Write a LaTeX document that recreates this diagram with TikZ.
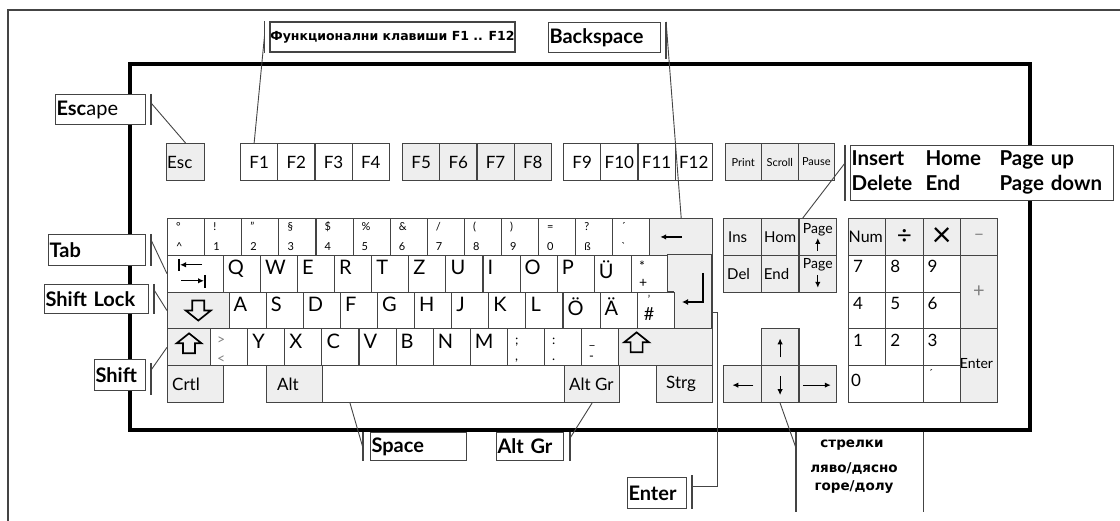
\documentclass[tikz,border=0pt]{standalone}
\usepackage{fontspec}
\setmainfont{Lato}
\newfontfamily\cyrfont{DejaVu Sans}
\usetikzlibrary{arrows.meta}
\definecolor{keygrey}{HTML}{EEEEEE}
\definecolor{rim}{HTML}{444444}
\newcommand{\fs}[1]{\fontsize{#1}{#1}\selectfont}

\tikzset{
  key/.style={draw=rim, line width=1.1pt, fill=white, anchor=north west,
    inner sep=0pt, minimum width=37.1pt, minimum height=36.8pt},
  gkey/.style={key, fill=keygrey},
  let/.style={anchor=north west, inner sep=0pt, font=\fs{20}},
  fkey/.style={inner sep=0pt, font=\fs{17}},
  sml/.style={anchor=base west, inner sep=0pt, font=\fs{11}},
  karrow/.style={-{Latex[length=6pt,width=5.5pt]}, line width=1.2pt},
  callout/.style={draw=rim, line width=1.1pt, fill=white, anchor=north west,
    inner xsep=1pt, inner ysep=0pt, align=left, font=\fs{20}},
  tick/.style={draw=rim, line width=1.4pt},
  link/.style={draw=rim, line width=0.9pt},
  shiftup/.pic={\draw[line width=1.7pt, line join=miter]
    (0,-10) -- (12.5,0) -- (6,0) -- (6,10) -- (-6,10) -- (-6,0) -- (-12.5,0) -- cycle;}
}

\begin{document}
\begin{tikzpicture}[x=1pt, y=-1pt]
\useasboundingbox (0,0) rectangle (1120,521);
\clip (0,0) rectangle (1120,521);
\draw[rim, line width=2pt] (8,10) rectangle (1140,540);
\draw[line width=3.6pt] (130,64) rectangle (1030,430);

% function row
\node[gkey, minimum width=38pt, minimum height=37pt] (esc) at (166,143) {};
\node[fkey, anchor=west] at ([shift={(1,0)}]esc.west) {Esc};
\foreach \n [count=\i from 0] in {1,2,3,4}{
  \node[key, minimum width=37.2pt, minimum height=37pt] (f\n) at (240+37.2*\i,143) {};
  \node[fkey] at (f\n) {F\n};}
\foreach \n [count=\i from 0] in {5,6,7,8}{
  \node[gkey, minimum width=37.2pt, minimum height=37pt] (f\n) at (402+37.2*\i,143) {};
  \node[fkey] at (f\n) {F\n};}
\foreach \n [count=\i from 0] in {9,10,11,12}{
  \node[key, minimum width=37.2pt, minimum height=37pt] (f\n) at (563+37.2*\i,143) {};
  \node[fkey] at (f\n) {F\n};}
\foreach \t [count=\i from 0] in {Print,Scroll,Pause}{
  \node[gkey, minimum width=36.5pt, minimum height=37pt] (sys\i) at (724.5+36.5*\i,143) {};
  \node[inner sep=0pt, font=\fs{11}] at (sys\i) {\t};}

% digits
\foreach \a/\b [count=\i from 0] in {°/\textasciicircum, !/1, "/2, §/3, \$/4, \%/5, \&/6, \slash/7, {(}/8, {)}/9, =/0, ?/ß, ´/\textasciigrave}{
  \node[key] (n\i) at (167+37.1*\i,218) {};
  \node[sml] at ([shift={(9,13)}]n\i.north west) {\a};
  \node[sml] at ([shift={(9,-5)}]n\i.south west) {\b};}
\node[gkey, minimum width=62.7pt] (bs) at (649.3,218) {};
\draw[karrow] ([shift={(1,0)}]bs.center) -- ([shift={(-21,0)}]bs.center);

% QWERTZ
\node[key, minimum width=55.7pt] (tab) at (167,254.8) {};
\draw[line width=1.5pt] ([shift={(12,4)}]tab.north west) -- ([shift={(12,16)}]tab.north west);
\draw[karrow] ([shift={(35,10)}]tab.north west) -- ([shift={(13,10)}]tab.north west);
\draw[karrow] ([shift={(14,26)}]tab.north west) -- ([shift={(37,26)}]tab.north west);
\draw[line width=1.5pt] ([shift={(38,20)}]tab.north west) -- ([shift={(38,33)}]tab.north west);
\foreach \t [count=\i from 0] in {Q,W,E,R,T,Z,U,I,O,P,Ü}{
  \node[key] (q\i) at (222.7+37.1*\i,254.8) {};
  \node[let] at ([shift={(5,5.5)}]q\i.north west) {\t};}
\node[key] (star) at (630.8,254.8) {};
\node[sml, font=\fs{14}] at ([shift={(8,17)}]star.north west) {*};
\node[sml, font=\fs{14}] at ([shift={(8,-5)}]star.south west) {+};
\draw[draw=rim, line width=1.1pt, fill=keygrey] (667.9,254.8) -- (712,254.8) -- (712,328.4)
  -- (673.7,328.4) -- (673.7,291.6) -- (667.9,291.6) -- cycle;
\coordinate (enterR) at (712,312);
\draw[line width=1.5pt, -{Latex[length=6pt,width=6pt]}] (703,273) -- (703,302) -- (682,302);

% ASDF
\node[gkey, minimum width=61.5pt] (caps) at (167,291.6) {};
\pic[rotate=180] at (caps.center) {shiftup};
\foreach \t [count=\i from 0] in {A,S,D,F,G,H,J,K,L,Ö,Ä}{
  \node[key] (a\i) at (228.5+37.1*\i,291.6) {};
  \node[let] at ([shift={(5,5.5)}]a\i.north west) {\t};}
\node[key] (hash) at (636.6,291.6) {};
\node[sml] at ([shift={(11,12)}]hash.north west) {'};
\node[sml, font=\fs{18}] at ([shift={(7,-9)}]hash.south west) {\#};

% YXCV
\node[gkey, minimum width=43pt] (lsh) at (167,328.4) {};
\pic at ([shift={(0,-4)}]lsh.center) {shiftup};
\node[key] (ltgt) at (210,328.4) {};
\node[sml, font=\fs{14}, gray] at ([shift={(7,16)}]ltgt.north west) {>};
\node[sml, font=\fs{14}, gray] at ([shift={(7,-3)}]ltgt.south west) {<};
\foreach \t [count=\i from 0] in {Y,X,C,V,B,N,M}{
  \node[key] (y\i) at (247.1+37.1*\i,328.4) {};
  \node[let] at ([shift={(5,5.5)}]y\i.north west) {\t};}
\foreach \a/\b [count=\i from 0] in {;/{,}, :/., \_/-}{
  \node[key] (p\i) at (506.8+37.1*\i,328.4) {};
  \node[sml, font=\fs{13}] at ([shift={(8,16)}]p\i.north west) {\a};
  \node[sml, font=\fs{13}] at ([shift={(8,-6)}]p\i.south west) {\b};}
\node[gkey, minimum width=93.9pt] (rsh) at (618.1,328.4) {};
\pic at ([shift={(18.5,-5)}]rsh.west) {shiftup};

% bottom row
\node[gkey, minimum width=55.7pt] (ctrl) at (167,365.2) {};
\node[fkey, anchor=west] at ([shift={(5,0)}]ctrl.west) {Crtl};
\node[gkey, minimum width=56pt] (alt) at (266,365.2) {};
\node[fkey, anchor=west] at ([shift={(11,0)}]alt.west) {Alt};
\node[key, minimum width=242pt] (space) at (322,365.2) {};
\node[gkey, minimum width=55pt] (altgr) at (564,365.2) {};
\node[fkey, anchor=west] at ([shift={(5,0)}]altgr.west) {Alt Gr};
\node[gkey, minimum width=56pt] (strg) at (656,365.2) {};
\node[fkey, anchor=west] at ([shift={(10,0)}]strg.west) {Strg};

% navigation block
\node[gkey, minimum width=37.7pt] (ins) at (723,218) {};
\node[gkey, minimum width=37.7pt] (hom) at (760.7,218) {};
\node[gkey, minimum width=37.7pt] (pgup) at (798.4,218) {};
\node[gkey, minimum width=37.7pt] (del) at (723,254.8) {};
\node[gkey, minimum width=37.7pt] (end) at (760.7,254.8) {};
\node[gkey, minimum width=37.7pt] (pgdn) at (798.4,254.8) {};
\node[fkey, font=\fs{15}, anchor=west] at ([shift={(5,0)}]ins.west) {Ins};
\node[fkey, font=\fs{15}] at (hom) {Hom};
\node[fkey, font=\fs{15}, anchor=west] at ([shift={(4,0)}]del.west) {Del};
\node[fkey, font=\fs{15}, anchor=west] at ([shift={(3,0)}]end.west) {End};
\node[fkey, font=\fs{14}, anchor=north] at ([shift={(0,5)}]pgup.north) {Page};
\draw[karrow] ([shift={(0,33)}]pgup.north) -- ([shift={(0,20)}]pgup.north);
\node[fkey, font=\fs{14}, anchor=north] at ([shift={(0,3.5)}]pgdn.north) {Page};
\draw[karrow] ([shift={(0,20)}]pgdn.north) -- ([shift={(0,33)}]pgdn.north);

% cursor keys
\node[gkey, minimum width=37.7pt] (kup) at (760.7,328.4) {};
\node[gkey, minimum width=37.7pt] (kleft) at (723,365.2) {};
\node[gkey, minimum width=37.7pt] (kdown) at (760.7,365.2) {};
\node[gkey, minimum width=37.7pt] (kright) at (798.4,365.2) {};
\draw[karrow] ([shift={(0,10)}]kup.center) -- ([shift={(0,-9)}]kup.center);
\draw[karrow] ([shift={(11,1)}]kleft.center) -- ([shift={(-10,1)}]kleft.center);
\draw[karrow] ([shift={(0,-8)}]kdown.center) -- ([shift={(0,11)}]kdown.center);
\draw[karrow] ([shift={(-15,1)}]kright.center) -- ([shift={(13,1)}]kright.center);

% numeric pad
\node[gkey, minimum width=37.25pt] (num) at (848,218) {};
\node[gkey, minimum width=37.25pt] (ndiv) at (885.25,218) {};
\node[gkey, minimum width=37.25pt] (nmul) at (922.5,218) {};
\node[gkey, minimum width=37.25pt] (nsub) at (959.75,218) {};
\node[fkey, font=\fs{16}, anchor=west] at ([shift={(0.5,0)}]num.west) {Num};
\node[fkey, font=\fs{26}] at (ndiv) {÷};
\node[fkey, font=\fs{34}] at (nmul) {×};
\node[fkey, gray] at (nsub) {−};
\foreach \t [count=\i from 0] in {7,8,9}{
  \node[key, minimum width=37.25pt] (k\t) at (848+37.25*\i,254.8) {};
  \node[let, font=\fs{17}] at ([shift={(5,5.5)}]k\t.north west) {\t};}
\foreach \t [count=\i from 0] in {4,5,6}{
  \node[key, minimum width=37.25pt] (k\t) at (848+37.25*\i,291.6) {};
  \node[let, font=\fs{17}] at ([shift={(5,5.5)}]k\t.north west) {\t};}
\foreach \t [count=\i from 0] in {1,2,3}{
  \node[key, minimum width=37.25pt] (k\t) at (848+37.25*\i,328.4) {};
  \node[let, font=\fs{17}] at ([shift={(5,5.5)}]k\t.north west) {\t};}
\node[gkey, minimum width=37.25pt, minimum height=73.6pt] (nadd) at (959.75,254.8) {};
\node[fkey, font=\fs{20}, gray] at (nadd) {+};
\node[gkey, minimum width=37.25pt, minimum height=73.6pt] (nent) at (959.75,328.4) {};
\node[fkey, font=\fs{14}, anchor=west] at ([shift={(0,-2)}]nent.west) {Enter};
\node[key, minimum width=74.5pt] (k0) at (848,365.2) {};
\node[let, font=\fs{17}] at ([shift={(3,9)}]k0.north west) {0};
\node[key, minimum width=37.25pt] (kdec) at (922.5,365.2) {};
\node[sml] at ([shift={(6,12)}]kdec.north west) {´};

% callouts
\node[callout, text width=88pt, minimum height=30pt] (lEsc) at (55,94) {\textbf{Esc}ape};
\draw[tick] ([shift={(5,0)}]lEsc.north east) -- ([shift={(5,0)}]lEsc.south east);
\draw[link] ([shift={(5,9)}]lEsc.north east) -- (esc.north);

\node[draw=rim, line width=1.1pt, fill=white, inner sep=0pt, minimum width=245pt, minimum height=30pt,
  font=\cyrfont\bfseries\fs{12.5}] (lFn) at (392.5,37) {Функционални клавиши F1 .. F12};
\draw[tick] ([shift={(-5,0)}]lFn.north west) -- ([shift={(-5,0)}]lFn.south west);
\draw[link] ([shift={(-5,15)}]lFn.north west) -- ([shift={(-5,0)}]f1.north);

\node[callout, text width=110pt, minimum height=30pt] (lBs) at (548,22) {\textbf{Backspace}};
\draw[tick] ([shift={(5,0)}]lBs.north east) -- ([shift={(5,6)}]lBs.south east);
\draw[link] ([shift={(5,0)}]lBs.north east) -- (bs.north);

\node[callout, text width=261pt, minimum height=55pt, font=\bfseries\fontsize{20.5}{25}\selectfont] (lNav) at (850,145)
  {\begin{tabular}{@{}p{74pt}@{}p{74pt}@{}l@{}}Insert & Home & Page up\\ Delete & End & Page down\end{tabular}};
\draw[tick] ([shift={(-5,0)}]lNav.north west) -- ([shift={(-5,0)}]lNav.south west);
\draw[link] ([shift={(-5,18)}]lNav.north west) -- ([shift={(-15,0)}]pgup.north);

\node[callout, text width=95pt, minimum height=31pt] (lTab) at (48,234) {\textbf{Tab}};
\draw[tick] ([shift={(5,0)}]lTab.north east) -- ([shift={(5,0)}]lTab.south east);
\draw[link] ([shift={(5,6)}]lTab.north east) -- (tab.west);

\node[callout, text width=102pt, minimum height=29pt] (lCaps) at (44,284) {\textbf{Shift Lock}};
\draw[tick] ([shift={(5,0)}]lCaps.north east) -- ([shift={(5,0)}]lCaps.south east);
\draw[link] ([shift={(5,6)}]lCaps.north east) -- (caps.west);

\node[callout, text width=49pt, minimum height=31pt] (lShift) at (94,359) {\textbf{Shift}};
\draw[tick] ([shift={(5,4)}]lShift.north east) -- ([shift={(5,4)}]lShift.south east);
\draw[link] ([shift={(5,11)}]lShift.north east) -- (lsh.west);

\node[callout, text width=94pt, minimum height=28pt] (lSpace) at (370,432) {\textbf{Space}};
\draw[tick] ([shift={(-7,0)}]lSpace.north west) -- ([shift={(-7,0)}]lSpace.south west);
\draw[link] ([shift={(28,0)}]space.south west) -- ([shift={(-7,16)}]lSpace.north west);

\node[callout, text width=65pt, minimum height=28pt] (lAltGr) at (496,432) {\textbf{Alt Gr}};
\draw[tick] ([shift={(6,0)}]lAltGr.north east) -- ([shift={(6,0)}]lAltGr.south east);
\draw[link] (altgr.south) -- ([shift={(6,6)}]lAltGr.north east);

\node[callout, text width=57pt, minimum height=31pt] (lEnter) at (627,477) {\textbf{Enter}};
\draw[tick] ([shift={(5,-2)}]lEnter.north east) -- ([shift={(5,0)}]lEnter.south east);
\draw[link] (enterR) -- ++(5,0) |- ([shift={(5,9)}]lEnter.north east);

\node[minimum width=127pt, minimum height=80pt, anchor=north west, inner sep=0pt] (lArr) at (796,432) {};
\draw[tick] (lArr.north west) -- (lArr.south west);
\draw[tick] (lArr.north east) -- (lArr.south east);
\draw[link] (kdown.south) -- ([shift={(0,16)}]lArr.north west);
\node[anchor=base, font=\cyrfont\bfseries\fs{13.5}] at (852,448) {стрелки};
\node[anchor=base, font=\cyrfont\bfseries\fs{13.5}] at (854,472) {ляво/дясно};
\node[anchor=base, font=\cyrfont\bfseries\fs{13.5}] at (854,490) {горе/долу};
\end{tikzpicture}
\end{document}
